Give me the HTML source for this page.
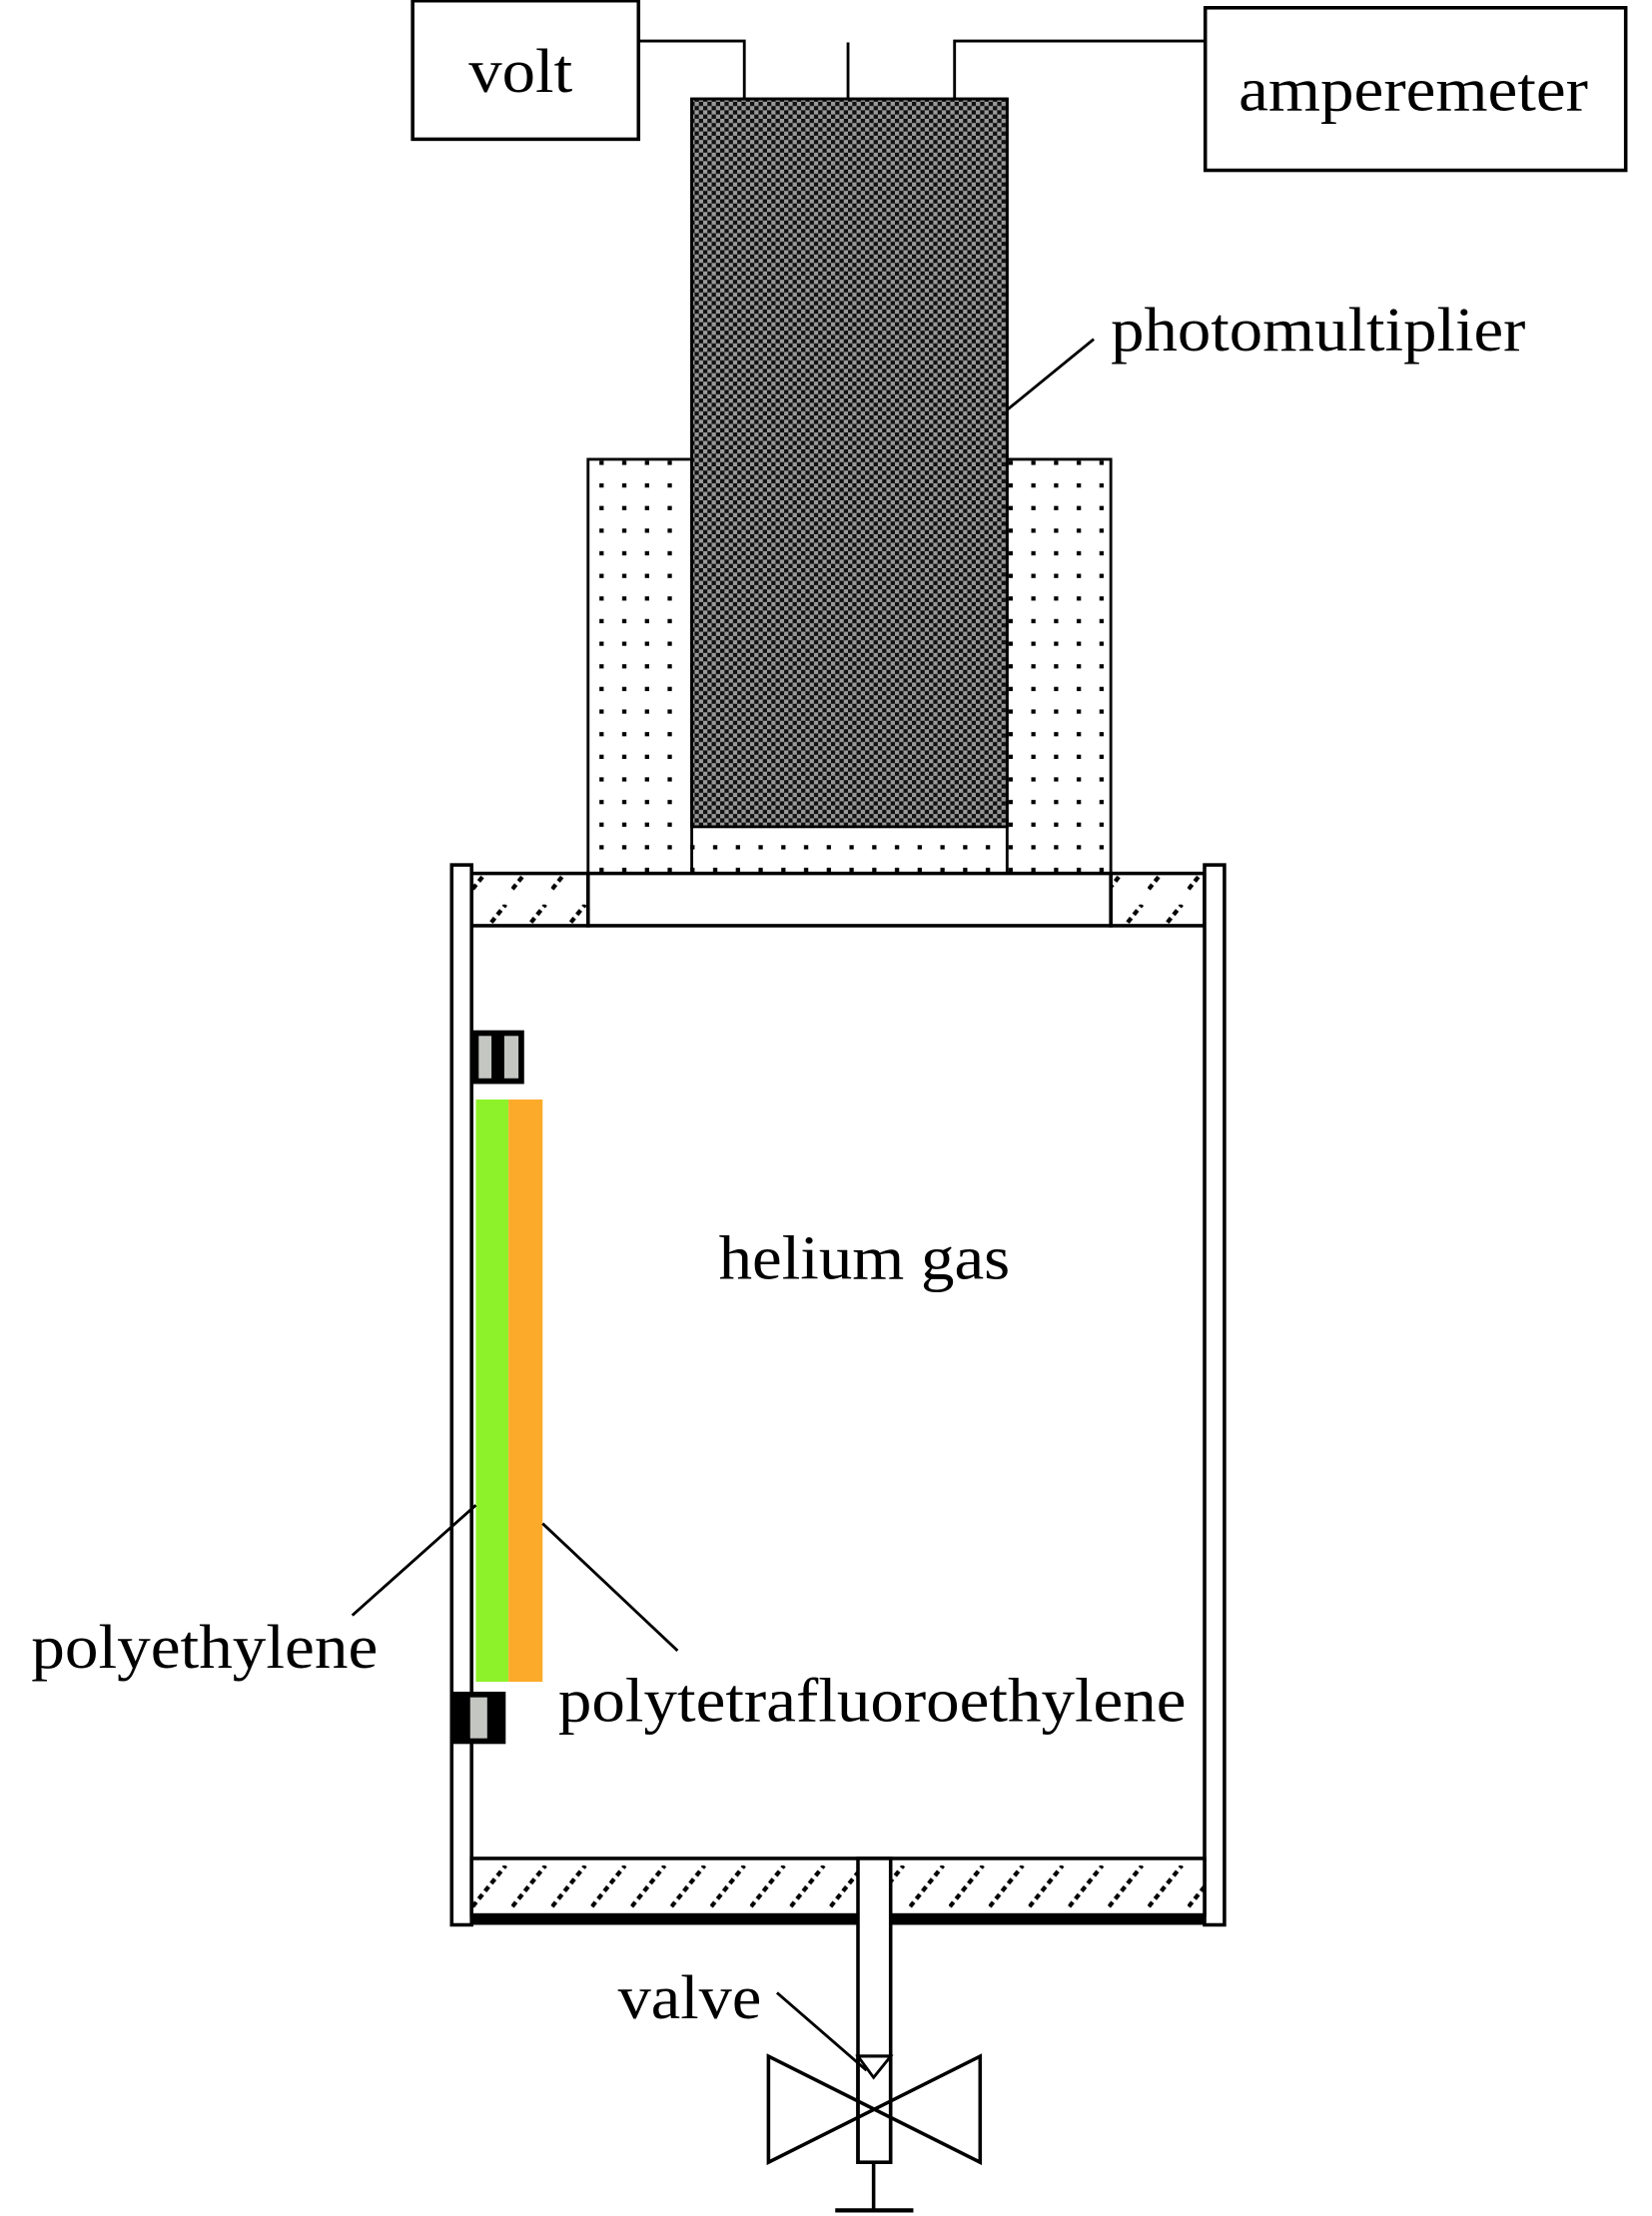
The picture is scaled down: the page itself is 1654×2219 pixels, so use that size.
<!DOCTYPE html>
<html><head><meta charset="utf-8"><style>
html,body{margin:0;padding:0;background:#fff;}
svg{display:block;}
text{font-family:"Liberation Serif",serif;fill:#000;}
</style></head><body>
<svg width="1654" height="2219" viewBox="0 0 1163 1568" preserveAspectRatio="none" xmlns="http://www.w3.org/2000/svg">
<defs>
<pattern id="chk" width="6" height="6" patternUnits="userSpaceOnUse">
<rect width="6" height="6" fill="#999"/>
<rect width="3" height="3" fill="#111"/><rect x="3" y="3" width="3" height="3" fill="#111"/>
</pattern>
<pattern id="dot" width="16" height="16" patternUnits="userSpaceOnUse">
<rect width="16" height="16" fill="#fff"/>
<rect x="6" y="6" width="3" height="3" fill="#000"/>
</pattern>
<pattern id="hat" width="28" height="40" patternUnits="userSpaceOnUse" patternTransform="translate(332,0)">
<rect width="28" height="40" fill="#fff"/>
<line x1="-8" y1="40" x2="24" y2="0" stroke="#000" stroke-width="3" stroke-dasharray="4 3"/>
</pattern>
</defs>

<rect x="290.5" y="0.5" width="159" height="98" fill="#fff" stroke="#000" stroke-width="2.5"/>
<text x="330" y="65" font-size="44" textLength="73" lengthAdjust="spacingAndGlyphs">volt</text>
<rect x="848.5" y="5.5" width="296" height="115" fill="#fff" stroke="#000" stroke-width="2.5"/>
<text x="872" y="78" font-size="44" textLength="246" lengthAdjust="spacingAndGlyphs">amperemeter</text>

<polyline points="449,29 524,29 524,70" fill="none" stroke="#000" stroke-width="2"/>
<line x1="597" y1="30" x2="597" y2="70" stroke="#000" stroke-width="2"/>
<polyline points="848,29 672,29 672,70" fill="none" stroke="#000" stroke-width="2"/>

<rect x="414" y="325" width="368" height="294" fill="url(#dot)" stroke="#000" stroke-width="2"/>
<rect x="487" y="70" width="222" height="549" fill="url(#dot)" stroke="#000" stroke-width="2"/>
<rect x="487" y="70" width="222" height="515" fill="url(#chk)" stroke="#000" stroke-width="2"/>
<line x1="709" y1="290" x2="770" y2="240" stroke="#000" stroke-width="2"/>
<text x="782" y="248" font-size="44" textLength="292" lengthAdjust="spacingAndGlyphs">photomultiplier</text>

<rect x="332" y="618" width="82" height="37" fill="url(#hat)" stroke="#000" stroke-width="2.5"/>
<rect x="782" y="618" width="66" height="37" fill="url(#hat)" stroke="#000" stroke-width="2.5"/>
<rect x="414" y="618" width="368" height="37" fill="#fff" stroke="#000" stroke-width="2.5"/>
<rect x="318" y="612" width="14" height="750" fill="#fff" stroke="#000" stroke-width="2.5"/>
<rect x="848" y="612" width="14" height="750" fill="#fff" stroke="#000" stroke-width="2.5"/>
<rect x="332" y="1315" width="516" height="40" fill="url(#hat)" stroke="#000" stroke-width="2.5"/>
<rect x="332" y="1355" width="516" height="7" fill="#000"/>

<rect x="333" y="729" width="36" height="38" fill="#000"/>
<rect x="337" y="733" width="9" height="30" fill="#c4c6c2"/>
<rect x="355" y="733" width="10" height="30" fill="#c4c6c2"/>
<rect x="318" y="1197" width="38" height="37" fill="#000"/>
<rect x="331" y="1201" width="12" height="29" fill="#c4c6c2"/>

<rect x="335" y="778" width="23" height="412" fill="#8ef22a"/>
<rect x="358" y="778" width="24" height="412" fill="#fcaa2a"/>

<text x="506" y="905" font-size="44" textLength="205" lengthAdjust="spacingAndGlyphs">helium gas</text>
<line x1="335" y1="1065" x2="248" y2="1143" stroke="#000" stroke-width="2"/>
<text x="22" y="1180" font-size="44" textLength="244" lengthAdjust="spacingAndGlyphs">polyethylene</text>
<line x1="382" y1="1078" x2="477" y2="1168" stroke="#000" stroke-width="2"/>
<text x="393" y="1218" font-size="44" textLength="442" lengthAdjust="spacingAndGlyphs">polytetrafluoroethylene</text>

<rect x="604" y="1315" width="23" height="215" fill="#fff" stroke="#000" stroke-width="2.5"/>
<polygon points="541,1455 690,1530 690,1455 541,1530" fill="none" stroke="#000" stroke-width="2.5"/>
<rect x="604" y="1455" width="23" height="75" fill="none" stroke="#000" stroke-width="2.5"/>
<polygon points="604,1455 627,1455 615,1470" fill="#fff" stroke="#000" stroke-width="2"/>
<line x1="615" y1="1530" x2="615" y2="1564" stroke="#000" stroke-width="2.5"/>
<line x1="588" y1="1564" x2="643" y2="1564" stroke="#000" stroke-width="3"/>
<line x1="547" y1="1410" x2="610" y2="1465" stroke="#000" stroke-width="2"/>
<text x="435" y="1428" font-size="44" textLength="101" lengthAdjust="spacingAndGlyphs">valve</text>
</svg>
</body></html>
